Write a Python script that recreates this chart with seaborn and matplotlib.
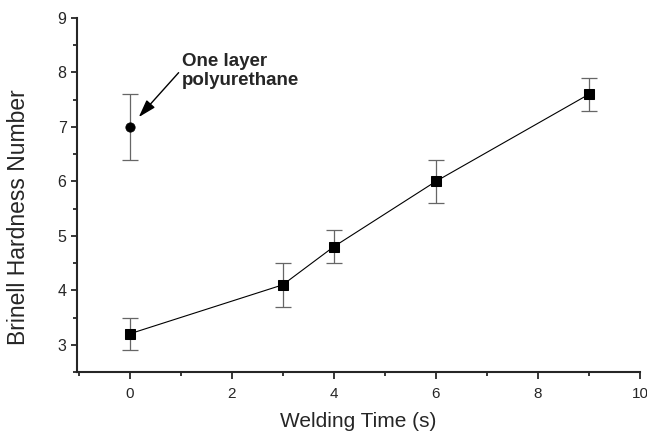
import matplotlib
matplotlib.use("Agg")
import matplotlib.pyplot as plt
import seaborn as sns
import pandas as pd
from matplotlib.ticker import MultipleLocator

weld_time = [0, 3, 4, 6, 9]
hardness = [3.2, 4.1, 4.8, 6.0, 7.6]
hardness_err = [0.3, 0.4, 0.3, 0.4, 0.3]
pu_time = [0]
pu_hardness = [7.0]
pu_err = [0.6]

sns.set_style("ticks")
plt.rcParams['font.family'] = ['Liberation Sans', 'DejaVu Sans']

fig = plt.figure(figsize=(6.47, 4.34), dpi=100)
ax = fig.add_axes([0.1190, 0.1429, 0.8702, 0.8156])

df = pd.DataFrame({"t": weld_time, "h": hardness})
ax.errorbar(weld_time, hardness, yerr=hardness_err, fmt='none', ecolor='#666666',
            elinewidth=0.9, capsize=6, capthick=0.9, zorder=2)
ax.errorbar(pu_time, pu_hardness, yerr=pu_err, fmt='none', ecolor='#666666',
            elinewidth=0.9, capsize=6, capthick=0.9, zorder=2)
sns.lineplot(data=df, x="t", y="h", ax=ax, color='black', linewidth=0.8,
             marker='s', markersize=6.5, markeredgecolor='black', zorder=3)
sns.scatterplot(x=pu_time, y=pu_hardness, ax=ax, color='black', marker='o', s=45,
                edgecolor='black', zorder=3)

ax.annotate("One layer\npolyurethane", xy=(0.18, 7.18), xytext=(1.03, 8.03),
            ha='left', va='center', multialignment='left',
            fontsize=13.5, fontweight='bold',
            arrowprops=dict(arrowstyle='-|>,head_length=0.8,head_width=0.25',
                            color='black', lw=1.0,
                            shrinkA=0, shrinkB=0, relpos=(-0.03, 0.45)))

ax.set_xlim(-1.03, 10)
ax.set_ylim(2.5, 9)
ax.xaxis.set_major_locator(MultipleLocator(2))
ax.xaxis.set_minor_locator(MultipleLocator(1))
ax.yaxis.set_major_locator(MultipleLocator(1))
ax.yaxis.set_minor_locator(MultipleLocator(0.5))
ax.tick_params(axis='x', which='major', length=5, width=1.3, labelsize=11,
               direction='out', pad=6)
ax.tick_params(axis='y', which='major', length=4, width=1.3, labelsize=11.5, direction='out')
ax.tick_params(which='minor', length=3, width=1.3, direction='out')
for s in ['left', 'bottom']:
    ax.spines[s].set_linewidth(1.5)
sns.despine(ax=ax)
ax.set_xlabel("Welding Time (s)", fontsize=15, labelpad=8)
ax.set_ylabel("Brinell Hardness Number", fontsize=16.5)
ax.yaxis.set_label_coords(-0.083, 0.437)

fig.savefig("out.png", dpi=100)
